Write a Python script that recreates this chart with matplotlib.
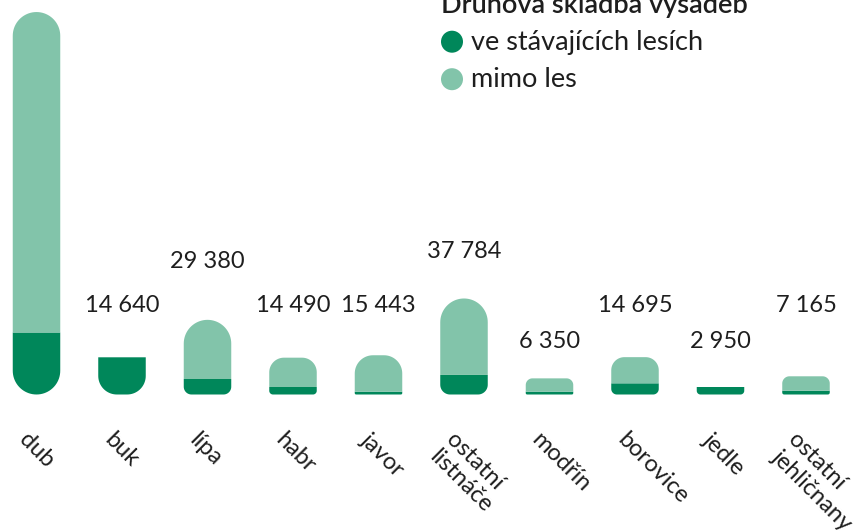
import numpy as np
import matplotlib
matplotlib.use("Agg")
import matplotlib.pyplot as plt
from matplotlib.patches import Polygon, Circle

# data
druhy = ["dub", "buk", "lípa", "habr", "javor", "ostatní\nlistnáče",
         "modřín", "borovice", "jedle", "ostatní\njehličnany"]
ve_lesich = [24400, 14640, 6100, 2950, 1100, 7700, 1100, 4400, 2950, 1500]
mimo_les = [126100, 0, 23280, 11540, 14343, 30084, 5250, 10295, 0, 5665]
# kde stoji popisky s celkovym poctem (v jednotkach osy y)
popisek_y = [168000, 32660, 49780, 32660, 32660, 53600, 18300, 32660, 18300, 32660]

TMAVA = "#00875a"
SVETLA = "#82c4aa"
TEXT = "#1e1e1e"
FONT = "Lato"

plt.rcParams["font.family"] = [FONT, "DejaVu Sans"]

W, H = 858, 531
fig = plt.figure(figsize=(W / 100, H / 100), dpi=100)
ax = fig.add_axes([0, 0, 1, 1])
ax.set_axis_off()

# rozmisteni: stred prvniho sloupce 36.5 px, rozestup 85.5 px, zaklad 394.5 px shora
px_x = 85.5
px_y = 1 / 393.5
ax.set_xlim(-36.5 / px_x, (W - 36.5) / px_x)
ax.set_ylim(-(H - 394.5) / px_y, 394.5 / px_y)

sirka = 47.5 / px_x


def segment(xc, y0, y1, zaobli_nahore):
    """Obdelnik zaobleny jen na jednom konci"""
    v_px = (y1 - y0) * px_y
    r = min(47.5 / 2, v_px / 2)
    rx, ry = r / px_x, r / px_y
    left, right = xc - sirka / 2, xc + sirka / 2
    t = np.linspace(0, np.pi / 2, 20)
    if zaobli_nahore:
        pr = np.column_stack([right - rx + rx * np.cos(t), y1 - ry + ry * np.sin(t)])
        lv = np.column_stack([left + rx - rx * np.sin(t), y1 - ry + ry * np.cos(t)])
        pts = np.vstack([[left, y0], [right, y0], pr, lv])
    else:
        lv = np.column_stack([left + rx - rx * np.cos(t), y0 + ry - ry * np.sin(t)])
        pr = np.column_stack([right - rx + rx * np.sin(t), y0 + ry - ry * np.cos(t)])
        pts = np.vstack([[left, y1], lv, pr, [right, y1]])
    return pts


for i, (dole, nahore) in enumerate(zip(ve_lesich, mimo_les)):
    if dole > 0:
        ax.add_patch(Polygon(segment(i, 0, dole, False), closed=True,
                             facecolor=TMAVA, edgecolor="none"))
    if nahore > 0:
        ax.add_patch(Polygon(segment(i, dole, dole + nahore, True), closed=True,
                             facecolor=SVETLA, edgecolor="none"))
    celkem = dole + nahore
    ax.text(i, popisek_y[i], f"{celkem:,}".replace(",", " "), ha="center",
            va="baseline", fontsize=17, color=TEXT)
    ax.annotate(druhy[i], xy=(i, 0), xytext=(-5, -25), textcoords="offset points",
                rotation=-45, rotation_mode="anchor", ha="left", va="top",
                fontsize=17, color=TEXT, linespacing=1.15)

# legenda
fig.text(440.7 / W, 1 - 12.7 / H, "Druhová skladba výsadeb", ha="left",
         va="baseline", fontsize=19.5, fontweight="semibold", color=TEXT)
for popis, barva, cy, base in [("ve stávajících lesích", TMAVA, 41.7, 50.0),
                               ("mimo les", SVETLA, 79.2, 87.3)]:
    fig.add_artist(Circle((452 / 100, (H - cy) / 100), 11 / 100,
                          transform=fig.dpi_scale_trans, facecolor=barva,
                          edgecolor="none"))
    fig.text(470.7 / W, 1 - base / H, popis, ha="left", va="baseline",
             fontsize=19.5, color=TEXT)

fig.savefig("out.png", dpi=100)
